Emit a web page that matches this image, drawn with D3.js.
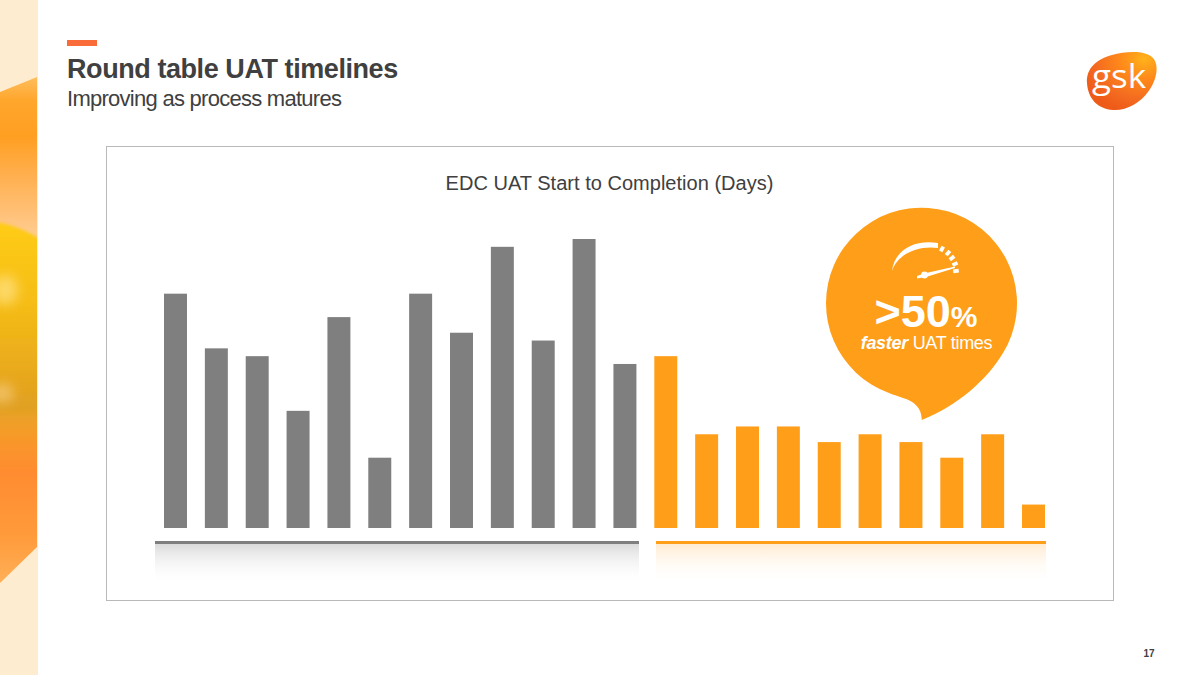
<!DOCTYPE html>
<html><head><meta charset="utf-8">
<script src="https://cdnjs.cloudflare.com/ajax/libs/d3/7.8.5/d3.min.js"></script>
<style>html,body{margin:0;padding:0;background:#fff}svg{display:block}text{font-family:"Liberation Sans",Arial,sans-serif}</style>
</head><body><svg id="c" width="1200" height="675"></svg>
<script>
const categories = d3.range(1, 23).map(String);
const earlyDays = [30, 23, 22, 15, 27, 9, 30, 25, 36, 24, 37, 21];
const laterDays = [22, 12, 13, 13, 11, 12, 11, 9, 12, 3];
const titleText = "Round table UAT timelines";
const subtitleText = "Improving as process matures";
const chartTitle = "EDC UAT Start to Completion (Days)";
const bandStops = [[0,"#ffc060"],[0.05,"#ffa62c"],[0.12,"#ff9f22"],[0.2,"#ffb050"],[0.3,"#ffc888"],[0.345,"#ffd49a"],[0.7,"#f79a28"],[0.78,"#ff8c30"],[0.9,"#ff9a3a"],[1,"#ffb058"]];
const yellowStops = [[0,"#ffcc14",1],[0.35,"#f6be14",1],[0.7,"#e8a81e",1],[0.85,"#e0a020",1],[1,"#f0a028",0]];

const values = earlyDays.concat(laterDays);
const svg = d3.select("#c");
const defs = svg.append("defs");
function grad(id, stops){
  const g = defs.append("linearGradient").attr("id", id).attr("x1",0).attr("y1",0).attr("x2",0).attr("y2",1);
  stops.forEach(s => g.append("stop").attr("offset", s[0]).attr("stop-color", s[1]).attr("stop-opacity", s[2] === undefined ? 1 : s[2]));
}
grad("band", bandStops);
grad("yellow", yellowStops);
grad("fadeG", [[0,"#c4c4c4",0.62],[1,"#ffffff",0]]);
grad("fadeO", [[0,"#ff9e18",0.2],[1,"#ffffff",0]]);
const lg = defs.append("radialGradient").attr("id","logo").attr("cx",0.82).attr("cy",0.12).attr("r",0.95);
[[0,"#ffb21a"],[0.35,"#ff8a1a"],[0.75,"#f36a20"],[1,"#ee5a18"]].forEach(s=>lg.append("stop").attr("offset",s[0]).attr("stop-color",s[1]));
defs.append("filter").attr("id","blur").attr("x","-100%").attr("y","-100%").attr("width","300%").attr("height","300%").append("feGaussianBlur").attr("stdDeviation",6);
defs.append("filter").attr("id","soft").attr("x","-10%").attr("y","-10%").attr("width","120%").attr("height","120%").append("feGaussianBlur").attr("stdDeviation",1.5);
defs.append("clipPath").attr("id","bandClip").append("path").attr("d","M0,92 L37,77 L37,547 L0,583 Z");

// left band
svg.append("rect").attr("width",38).attr("height",675).attr("fill","#fdeccf");
const art = svg.append("g").attr("clip-path","url(#bandClip)");
art.append("rect").attr("x",0).attr("y",75).attr("width",38).attr("height",510).attr("fill","url(#band)");
art.append("path").attr("d","M-4,222 C10,224 26,230 42,240 L42,440 L-4,440 Z").attr("fill","url(#yellow)").attr("filter","url(#soft)");
art.append("ellipse").attr("cx",5).attr("cy",290).attr("rx",13).attr("ry",15).attr("fill","#ffe080").attr("opacity",0.75).attr("filter","url(#blur)");
art.append("ellipse").attr("cx",2).attr("cy",393).attr("rx",12).attr("ry",10).attr("fill","#f4c878").attr("opacity",0.75).attr("filter","url(#blur)");

// header
svg.append("rect").attr("x",67).attr("y",40).attr("width",30).attr("height",6).attr("fill","#f96b38");
svg.append("text").attr("x",67).attr("y",78).attr("font-size",27).attr("font-weight",700).attr("fill","#404040").attr("letter-spacing",-0.43).text(titleText);
svg.append("text").attr("x",67).attr("y",106).attr("font-size",22).attr("fill","#404040").attr("letter-spacing",-0.73).text(subtitleText);

// logo
svg.append("path").attr("d","M1087,83 C1086,68 1097,59 1112,55 C1126,51 1146,50 1153,58 C1160,66 1156,82 1148,92 C1140,103 1126,111 1113,110 C1098,109 1088,99 1087,83 Z").attr("fill","url(#logo)");
svg.append("text").attr("x",1119).attr("y",88).attr("text-anchor","middle").style("font-family","'Open Sans'").attr("font-size",33).attr("fill","#fff").attr("textLength",54).attr("lengthAdjust","spacingAndGlyphs").text("gsk");

// panel
svg.append("rect").attr("x",106.5).attr("y",146.5).attr("width",1007).attr("height",454).attr("fill","#fff").attr("stroke","#b9b9b9").attr("stroke-width",1);
svg.append("text").attr("x",609.5).attr("y",190).attr("text-anchor","middle").attr("font-size",20).attr("fill","#404040").attr("letter-spacing",0.02).text(chartTitle);

// bars
const x = d3.scaleBand().domain(categories).range([164,1045]).paddingInner(0.4377);
const y = d3.scaleLinear().domain([0,37]).range([528,239]);
svg.append("g").selectAll("rect").data(values).join("rect")
  .attr("x",(d,i)=>x(categories[i])).attr("width",x.bandwidth())
  .attr("y",d=>y(d)).attr("height",d=>y(0)-y(d))
  .attr("fill",(d,i)=>i<earlyDays.length?"#7f7f7f":"#ff9e18");

// underlines with fade
[[155,639,"#7f7f7f","url(#fadeG)"],[656,1046,"#ff9e18","url(#fadeO)"]].forEach(b=>{
  svg.append("rect").attr("x",b[0]).attr("y",544).attr("width",b[1]-b[0]).attr("height",40).attr("fill",b[3]);
  svg.append("rect").attr("x",b[0]).attr("y",541).attr("width",b[1]-b[0]).attr("height",3).attr("fill",b[2]);
});

// callout bubble
svg.append("path").attr("d","M889,393 A95.5,95.5 0 1 1 1003,353 C987,380 957,406 921.7,420 C922,408 914,401 903,398 C897,396 893,394.5 889,393 Z").attr("fill","#ff9e18");

// speedometer
const g = svg.append("g").attr("fill","#fff");
g.append("path").attr("d","M892,271 C894,252 912,239 938,243 L938,248 C917,245 897,255 892,271 Z");
[[942,249,28],[948,253,40],[952,258,52],[955,264,66],[956,271,82]].forEach(t=>{
  g.append("rect").attr("x",-1.9).attr("y",-2.8).attr("width",3.8).attr("height",5.6).attr("transform",`translate(${t[0]},${t[1]}) rotate(${t[2]})`);
});
g.append("path").attr("d","M917,276 L924,273.5 L955,266.5 L955,268 L926,277 L917,278.5 Z");
g.append("circle").attr("cx",924.5).attr("cy",275).attr("r",3.4);

const big = svg.append("text").attr("x",926).attr("y",327).attr("text-anchor","middle").attr("fill","#fff").attr("font-weight",700);
big.append("tspan").attr("font-size",45).text(">50");
big.append("tspan").attr("font-size",30).text("%");
const sub = svg.append("text").attr("x",926.5).attr("y",349).attr("text-anchor","middle").attr("fill","#fff").attr("font-size",18).attr("letter-spacing",-0.3);
sub.append("tspan").attr("font-weight",700).attr("font-style","italic").text("faster");
sub.append("tspan").text(" UAT times");

svg.append("text").attr("x",1149).attr("y",657).attr("text-anchor","middle").attr("font-size",10).attr("font-weight",700).attr("fill","#404040").text("17");
</script></body></html>
